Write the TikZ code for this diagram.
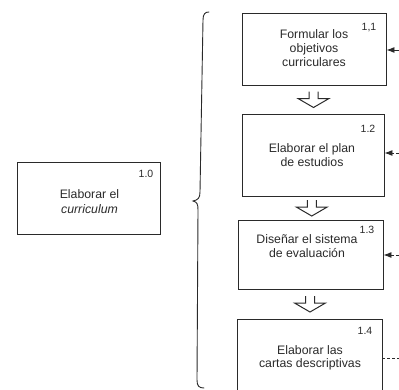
\documentclass[tikz,border=0pt]{standalone}
\usepackage{fontspec}
\setmainfont{Liberation Sans}
\usetikzlibrary{calc,arrows.meta}
\definecolor{ink}{HTML}{2A2A2A}
\begin{document}
\begin{tikzpicture}[x=1pt,y=-1pt,
  box/.style={draw=ink, line width=0.9pt, inner sep=0pt, rectangle},
  lbl/.style={font=\fontsize{12.3}{13.6}\selectfont, align=center, text=ink, inner sep=0pt},
  num/.style={font=\fontsize{10.5}{12}\selectfont, text=ink, inner sep=0pt},
  feed/.style={draw=ink, line width=0.9pt, -{Latex[length=8pt,width=6pt]}},
  feeddash/.style={feed, dash pattern=on 3pt off 2pt},
  blockarrow/.style={draw=ink, line width=1pt, line join=miter},
  bracestyle/.style={draw=ink, line width=0.9pt, line cap=round}
]
\useasboundingbox (0,0) rectangle (399,389);
\clip (0,0) rectangle (399,389);

% main activity
\node[box, minimum width=143pt, minimum height=72pt] (b10) at (88.5,198) {};
\node[num] (n10) at (146,174) {1.0};
\node[lbl, font=\fontsize{12.3}{15}\selectfont] (t10) at (89.5,202) {Elaborar el\\\textit{curriculum}};

% brace grouping the sub-activities
\coordinate (brtop) at (209,12);
\coordinate (brtip) at (193,201);
\coordinate (brbot) at (204,388);
\draw[bracestyle] (brtop) .. controls (205,12) and (203,14) .. (203,20)
  -- (200,192) .. controls (200,198) and (198,200) .. (brtip)
  .. controls (197,202) and (198,204) .. (198,210)
  -- (197,380) .. controls (197,386) and (199,388) .. (brbot);

% sub-activities
\node[box, minimum width=144pt, minimum height=72pt] (b11) at (314,49) {};
\node[box, minimum width=142pt, minimum height=82pt] (b12) at (313,155) {};
\node[box, minimum width=145pt, minimum height=69pt] (b13) at (310.5,254.5) {};
\node[box, minimum width=145pt, minimum height=101pt] (b14) at (309.5,369.5) {};

\node[num] (n11) at (369,28) {1,1};
\node[num] (n12) at (368,129) {1.2};
\node[num] (n13) at (367,230) {1.3};
\node[num] (n14) at (365,331) {1.4};

\node[lbl] (t11) at (314,48) {Formular los\\objetivos\\curriculares};
\node[lbl] (t12) at (312,155) {Elaborar el plan\\de estudios};
\node[lbl] (t13) at (307,246) {Diseñar el sistema\\de evaluación};
\node[lbl] (t14) at (310,358) {Elaborar las\\cartas descriptivas};

% hollow arrows between consecutive steps
\coordinate (m1) at ($(b11.south)!0.5!(b12.north)$);
\coordinate (m2) at ($(b12.south)!0.5!(b13.north)$);
\coordinate (m3) at ($(b13.south)!0.5!(b14.north)$);
\foreach \m in {m1,m2,m3}{
  \draw[blockarrow, shift={(\m)}] (-4.5,-8) -- (-4.5,-1) -- (-15.5,-1) -- (0,8)
    -- (15.5,-1) -- (4.5,-1) -- (4.5,-8);
}

% inputs entering from the right
\coordinate (f1) at (399,50);
\coordinate (f2) at (399,153);
\coordinate (f3) at (399,255);
\coordinate (f4) at (399,358);
\draw[feed] (f1) -- (b11.east |- f1);
\draw[feeddash] (f2) -- (b12.east |- f2);
\draw[feeddash] (f3) -- (b13.east |- f3);
\draw[draw=ink, line width=0.9pt, dash pattern=on 3pt off 2pt] (b14.east |- f4) -- (f4);
\end{tikzpicture}
\end{document}
